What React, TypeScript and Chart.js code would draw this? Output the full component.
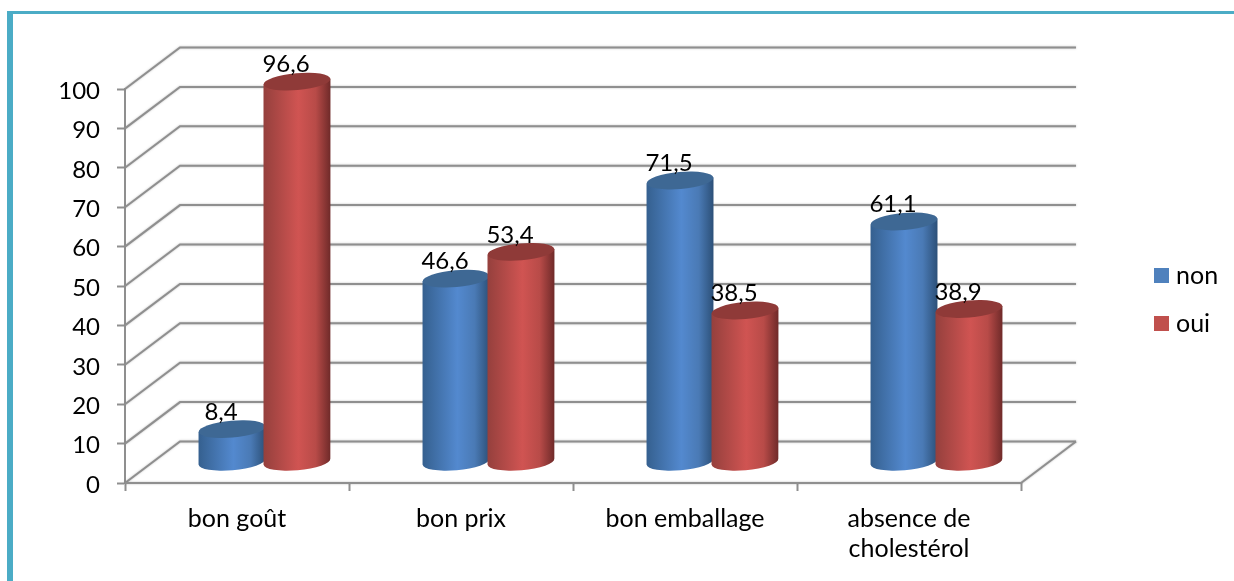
import React, { useEffect, useRef } from "react";
import { Chart, registerables } from "chart.js";

Chart.register(...registerables);

// Chart data
const categories = ["bon goût", "bon prix", "bon emballage", ["absence de", "cholestérol"]];
const seriesNames = ["non", "oui"];
const nonValues = [8.4, 46.6, 71.5, 61.1];
const ouiValues = [96.6, 53.4, 38.5, 38.9];
const yTicks = { min: 0, max: 100, step: 10 };

// Styling
const FONT_FAMILY = "Lato, 'Open Sans', sans-serif";
const TEXT_SIZE = 25;
const NUMBER_SIZE = 24;
const GRID_COLOR = "#8f8f8f";
const DEPTH_X = 55;
const DEPTH_Y = 41.5;
const ELLIPSE_RY = 8.5;
const ELLIPSE_TILT = (-5 * Math.PI) / 180;

const palettes = [
  { swatch: "#4f81bd", left: "#35608f", mid: "#5389cf", soft: "#4a7ab5", right: "#2c5078", top: "#3e6894" },
  { swatch: "#c0504d", left: "#95403d", mid: "#d05452", soft: "#b84b48", right: "#6f2a29", top: "#8f3a38" },
];

function drawCylinder(ctx: CanvasRenderingContext2D, el: any, p: (typeof palettes)[number]) {
  const cx = el.x + DEPTH_X / 2;
  const rx = el.width / 2 + 1;
  const topY = el.y - DEPTH_Y / 2;
  const baseY = el.base - DEPTH_Y / 2;
  const dy = rx * Math.sin(ELLIPSE_TILT);

  const grad = ctx.createLinearGradient(cx - rx, 0, cx + rx, 0);
  grad.addColorStop(0, p.left);
  grad.addColorStop(0.52, p.mid);
  grad.addColorStop(0.78, p.soft);
  grad.addColorStop(1, p.right);

  // Side of the cylinder, closed along the lower half of the base ellipse
  ctx.beginPath();
  ctx.moveTo(cx - rx, topY - dy);
  ctx.lineTo(cx - rx, baseY - dy);
  ctx.ellipse(cx, baseY, rx, ELLIPSE_RY, ELLIPSE_TILT, Math.PI, 0, true);
  ctx.lineTo(cx + rx, topY + dy);
  ctx.closePath();
  ctx.fillStyle = grad;
  ctx.fill();

  // Top face
  ctx.beginPath();
  ctx.ellipse(cx, topY, rx, ELLIPSE_RY, ELLIPSE_TILT, 0, Math.PI * 2);
  ctx.fillStyle = p.top;
  ctx.fill();
}

const scenePlugin = {
  id: "scene3d",
  beforeDraw(chart: any) {
    // Lato sits a little high on its middle baseline: nudge the value axis labels down once
    const y = chart.scales.y;
    if (y._labelsNudged) return;
    y._labelsNudged = true;
    y.getLabelItems().forEach((item: any) => {
      item.options.translation[1] += 2;
    });
  },
  beforeDatasetsDraw(chart: any) {
    const { ctx, scales, chartArea } = chart;
    const y = scales.y;
    const { left, right } = chartArea;

    // Side wall and back wall lines, one per tick value
    ctx.save();
    ctx.strokeStyle = GRID_COLOR;
    ctx.lineWidth = 2;
    ctx.shadowColor = "rgba(120,120,120,0.5)";
    ctx.shadowBlur = 2;
    y.ticks.forEach((t: any) => {
      const py = y.getPixelForValue(t.value);
      ctx.beginPath();
      ctx.moveTo(left, py);
      ctx.lineTo(left + DEPTH_X, py - DEPTH_Y);
      ctx.lineTo(right + DEPTH_X, py - DEPTH_Y);
      ctx.stroke();
    });
    // Front and right edges of the floor
    const floor = y.getPixelForValue(0);
    ctx.beginPath();
    ctx.moveTo(left, floor);
    ctx.lineTo(right, floor);
    ctx.lineTo(right + DEPTH_X, floor - DEPTH_Y);
    ctx.stroke();
    ctx.restore();

    // Cylinders, one dataset after the other so the second overlaps the first
    chart.data.datasets.forEach((_: any, i: number) => {
      chart.getDatasetMeta(i).data.forEach((el: any) => drawCylinder(ctx, el, palettes[i]));
    });

    // Value labels
    ctx.save();
    ctx.fillStyle = "#000";
    ctx.font = `${NUMBER_SIZE}px ${FONT_FAMILY}`;
    ctx.textAlign = "center";
    ctx.textBaseline = "middle";
    chart.data.datasets.forEach((ds: any, i: number) => {
      chart.getDatasetMeta(i).data.forEach((el: any, j: number) => {
        const text = String(ds.data[j]).replace(".", ",");
        ctx.fillText(text, el.x + DEPTH_X / 2 - 11, el.y - DEPTH_Y / 2 - 17);
      });
    });
    ctx.restore();

    // Legend to the right of the plot
    ctx.save();
    ctx.font = `${TEXT_SIZE}px ${FONT_FAMILY}`;
    ctx.textBaseline = "middle";
    ctx.textAlign = "left";
    chart.data.datasets.forEach((ds: any, i: number) => {
      const ly = 268 + i * 48;
      ctx.fillStyle = palettes[i].swatch;
      ctx.fillRect(1154, ly, 15, 15);
      ctx.fillStyle = "#000";
      ctx.fillText(ds.label, 1176, ly + 8);
    });
    ctx.restore();

    return false;
  },
};

export default function App() {
  const canvasRef = useRef<HTMLCanvasElement | null>(null);

  useEffect(() => {
    const chart = new Chart(canvasRef.current as HTMLCanvasElement, {
      type: "bar",
      data: {
        labels: categories as any,
        datasets: [
          { label: seriesNames[0], data: nonValues, backgroundColor: palettes[0].swatch },
          { label: seriesNames[1], data: ouiValues, backgroundColor: palettes[1].swatch },
        ],
      },
      options: {
        responsive: false,
        animation: false,
        events: [],
        layout: { padding: { left: 0, top: 89, right: 213, bottom: 0 } },
        plugins: { legend: { display: false }, title: { display: false }, tooltip: { enabled: false } },
        scales: {
          x: {
            offset: true,
            grid: {
              offset: true,
              drawOnChartArea: false,
              drawTicks: true,
              tickLength: 8,
              tickWidth: 2,
              tickColor: GRID_COLOR,
            },
            border: { display: false },
            ticks: {
              color: "#000",
              padding: 13,
              maxRotation: 0,
              autoSkip: false,
              font: { family: FONT_FAMILY, size: TEXT_SIZE, lineHeight: 1.2 },
            },
            afterFit: (s: any) => {
              s.height = 98;
            },
          },
          y: {
            min: yTicks.min,
            max: yTicks.max,
            grid: {
              drawOnChartArea: false,
              drawTicks: true,
              tickLength: 8,
              tickWidth: 2,
              tickColor: GRID_COLOR,
            },
            border: { display: true, color: GRID_COLOR, width: 2 },
            ticks: {
              stepSize: yTicks.step,
              color: "#000",
              padding: 17,
              font: { family: FONT_FAMILY, size: NUMBER_SIZE },
            },
            afterFit: (s: any) => {
              s.width = 125;
            },
          },
        },
        datasets: { bar: { categoryPercentage: 0.58, barPercentage: 1 } },
      } as any,
      plugins: [scenePlugin as any],
    });
    return () => chart.destroy();
  }, []);

  return (
    <div
      style={{
        position: "absolute",
        left: 0,
        top: 0,
        width: 1234,
        height: 581,
        overflow: "hidden",
        background: "#fff",
      }}
    >
      <canvas ref={canvasRef} width={1234} height={581} style={{ display: "block" }} />
      <div style={{ position: "absolute", left: 7, top: 11, width: 1227, height: 3, background: "#4bacc6" }} />
      <div style={{ position: "absolute", left: 7, top: 11, width: 6, height: 570, background: "#4bacc6" }} />
    </div>
  );
}
